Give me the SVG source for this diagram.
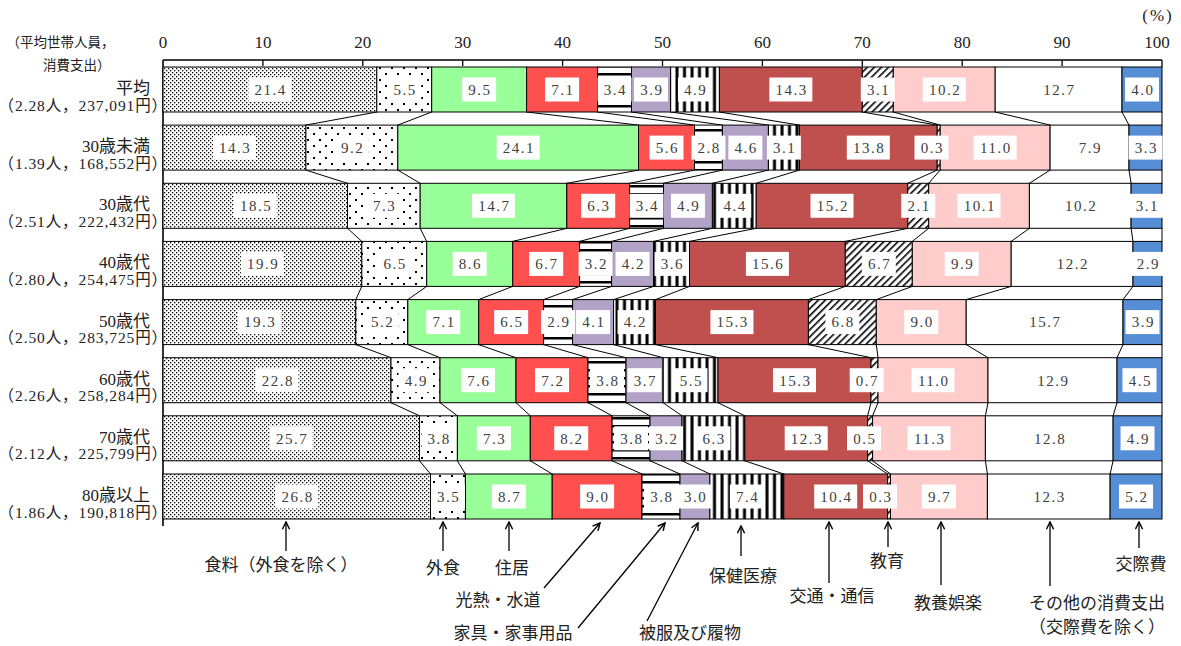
<svg xmlns="http://www.w3.org/2000/svg" xmlns:xlink="http://www.w3.org/1999/xlink" width="1181" height="646" viewBox="0 0 1181 646">
<style>
.seg rect{stroke:#000;stroke-width:1}
.c1{fill:url(#pFood)}.c2{fill:url(#pOut)}.c3{fill:#99FF99}.c4{fill:#FF5050}.c5{fill:url(#pHor)}.c6{fill:#B3A2C7}
.c7{fill:url(#pVer)}.c8{fill:#C0504D}.c9{fill:url(#pDiag)}.c10{fill:#FFCCCC}.c11{fill:#fff}.c12{fill:#558ED5}
.val{font-family:'Liberation Serif',serif;font-size:15px;letter-spacing:1.5px;fill:#404040;text-anchor:middle}
.num{font-family:'Liberation Serif',serif;font-size:17px;fill:#222;text-anchor:middle}
.jp{font-family:'Liberation Serif','Noto Sans CJK JP',sans-serif;fill:#222}
.r1{font-size:17px;text-anchor:end}
.r2{font-size:15.5px;letter-spacing:0.9px;text-anchor:end}
.an{font-family:'Noto Sans CJK JP',sans-serif;font-size:17px;fill:#222;text-anchor:middle}
.arr line{stroke:#000;stroke-width:1.3;marker-end:url(#ah)}
#connectors path{stroke:#000;stroke-width:1;fill:none}
</style>
<defs>
<pattern id="pFood" width="4" height="4" patternUnits="userSpaceOnUse"><rect width="4" height="4" fill="#fff"/><rect x="0" y="0" width="1.3" height="1.3" fill="#000"/><rect x="2" y="2" width="1.3" height="1.3" fill="#000"/></pattern>
<pattern id="pOut" width="12" height="12" patternUnits="userSpaceOnUse"><rect width="12" height="12" fill="#fff"/><rect x="1" y="1" width="2" height="2" fill="#000"/><rect x="7" y="7" width="2" height="2" fill="#000"/></pattern>
<pattern id="pHor" width="6" height="8" patternUnits="userSpaceOnUse"><rect width="6" height="8" fill="#fff"/><rect x="0" y="1" width="6" height="2.5" fill="#000"/></pattern>
<pattern id="pVer" width="7.5" height="6" patternUnits="userSpaceOnUse"><rect width="7.5" height="6" fill="#fff"/><rect x="0.5" y="0" width="3" height="6" fill="#000"/></pattern>
<pattern id="pDiag" width="5" height="5" patternUnits="userSpaceOnUse" patternTransform="rotate(45)"><rect width="5" height="5" fill="#fff"/><rect x="0" y="0" width="1.6" height="5" fill="#000"/></pattern>
<marker id="ah" viewBox="0 0 10 10" refX="9" refY="5" markerWidth="9" markerHeight="9" markerUnits="userSpaceOnUse" orient="auto"><path d="M1,1 L9,5 L1,9" fill="none" stroke="#000" stroke-width="1.6"/></marker>
<rect id="b3" x="-17" y="-12" width="34" height="24" fill="#fff"/>
<rect id="b4" x="-21.5" y="-12" width="43" height="24" fill="#fff"/>
</defs>
<rect width="1181" height="646" fill="#fff"/>

<g id="axis">
<path d="M163,60H1162 M163,60V66 M262.9,60V66 M362.8,60V66 M462.7,60V66 M562.6,60V66 M662.5,60V66 M762.4,60V66 M862.3,60V66 M962.2,60V66 M1062.1,60V66 M1162,60V67" stroke="#000" stroke-width="1.3" fill="none"/>
<text class="num" x="163" y="48">0</text><text class="num" x="262.9" y="48">10</text><text class="num" x="362.8" y="48">20</text><text class="num" x="462.7" y="48">30</text><text class="num" x="562.6" y="48">40</text><text class="num" x="662.5" y="48">50</text><text class="num" x="762.4" y="48">60</text><text class="num" x="862.3" y="48">70</text><text class="num" x="962.2" y="48">80</text><text class="num" x="1062.1" y="48">90</text><text class="num" x="1157" y="48">100</text>
<text class="num" x="1158" y="21" style="letter-spacing:2px">(%)</text>
<text class="jp" x="6.5" y="47" style="font-size:13.5px">（平均世帯人員，</text>
<text class="jp" x="43" y="70" style="font-size:13.5px">消費支出）</text>
</g>

<g id="connectors">
<path d="M376.8,112L305.9,125.1M431.7,112L397.8,125.1M526.6,112L638.5,125.1M597.6,112L694.5,125.1M631.5,112L722.4,125.1M670.5,112L768.4,125.1M719.4,112L799.4,125.1M862.3,112L937.2,125.1M893.3,112L940.2,125.1M995.2,112L1050.1,125.1M1122,112L1129,125.1M1162,112L1162,125.1
M305.9,170.1L347.5,183.3M397.8,170.1L420.2,183.3M638.5,170.1L566.8,183.3M694.5,170.1L629.6,183.3M722.4,170.1L663.5,183.3M768.4,170.1L712.4,183.3M799.4,170.1L756.2,183.3M937.2,170.1L907.8,183.3M940.2,170.1L928.7,183.3M1050.1,170.1L1029.4,183.3M1129,170.1L1131.1,183.3M1162,170.1L1162,183.3
M347.5,228.3L361.8,241.4M420.2,228.3L426.7,241.4M566.8,228.3L512.7,241.4M629.6,228.3L579.6,241.4M663.5,228.3L611.6,241.4M712.4,228.3L653.5,241.4M756.2,228.3L689.5,241.4M907.8,228.3L845.3,241.4M928.7,228.3L912.3,241.4M1029.4,228.3L1011.2,241.4M1131.1,228.3L1133,241.4M1162,228.3L1162,241.4
M361.8,286.4L355.8,299.6M426.7,286.4L407.8,299.6M512.7,286.4L478.7,299.6M579.6,286.4L543.6,299.6M611.6,286.4L572.6,299.6M653.5,286.4L613.6,299.6M689.5,286.4L655.5,299.6M845.3,286.4L808.4,299.6M912.3,286.4L876.3,299.6M1011.2,286.4L966.2,299.6M1133,286.4L1123,299.6M1162,286.4L1162,299.6
M355.8,344.6L391,357.7M407.8,344.6L440,357.7M478.7,344.6L516,357.7M543.6,344.6L588,357.7M572.6,344.6L626,357.7M613.6,344.6L663,357.7M655.5,344.6L718,357.7M808.4,344.6L871,357.7M876.3,344.6L878,357.7M966.2,344.6L988,357.7M1123,344.6L1117,357.7M1162,344.6L1162,357.7
M391,402.7L419.5,415.8M440,402.7L457.4,415.8M516,402.7L530.3,415.8M588,402.7L612.1,415.8M626,402.7L650,415.8M663,402.7L682,415.8M718,402.7L744.8,415.8M871,402.7L867.6,415.8M878,402.7L872.6,415.8M988,402.7L985.4,415.8M1117,402.7L1113.1,415.8M1162,402.7L1162,415.8
M419.5,460.8L430.5,474M457.4,460.8L465.4,474M530.3,460.8L552.2,474M612.1,460.8L642,474M650,460.8L680,474M682,460.8L709.9,474M744.8,460.8L783.8,474M867.6,460.8L887.6,474M872.6,460.8L890.5,474M985.4,460.8L987.4,474M1113.1,460.8L1110.1,474M1162,460.8L1162,474"/>
<path d="M163,60V526" style="stroke:#333;stroke-width:2"/>
</g>

<g id="row-avg">
<g class="seg"><rect class="c1" x="163" y="67" width="213.8" height="45"/><rect class="c2" x="376.8" y="67" width="54.9" height="45"/><rect class="c3" x="431.7" y="67" width="94.9" height="45"/><rect class="c4" x="526.6" y="67" width="71" height="45"/><rect class="c5" x="597.6" y="67" width="33.9" height="45"/><rect class="c6" x="631.5" y="67" width="39" height="45"/><rect class="c7" x="670.5" y="67" width="48.9" height="45"/><rect class="c8" x="719.4" y="67" width="142.9" height="45"/><rect class="c9" x="862.3" y="67" width="31" height="45"/><rect class="c10" x="893.3" y="67" width="101.9" height="45"/><rect class="c11" x="995.2" y="67" width="126.8" height="45"/><rect class="c12" x="1122" y="67" width="40" height="45"/></g>
<g class="val">
<g transform="translate(269.9 89.5)"><use href="#b4"/><text x="0.75" y="5.3">21.4</text></g>
<g transform="translate(404.25 89.5)"><use href="#b3"/><text x="0.75" y="5.3">5.5</text></g>
<g transform="translate(479.15 89.5)"><use href="#b3"/><text x="0.75" y="5.3">9.5</text></g>
<g transform="translate(562.1 89.5)"><use href="#b3"/><text x="0.75" y="5.3">7.1</text></g>
<g transform="translate(614.55 89.5)"><use href="#b3"/><text x="0.75" y="5.3">3.4</text></g>
<g transform="translate(651 89.5)"><use href="#b3"/><text x="0.75" y="5.3">3.9</text></g>
<g transform="translate(694.95 89.5)"><use href="#b3"/><text x="0.75" y="5.3">4.9</text></g>
<g transform="translate(790.85 89.5)"><use href="#b4"/><text x="0.75" y="5.3">14.3</text></g>
<g transform="translate(877.8 89.5)"><use href="#b3"/><text x="0.75" y="5.3">3.1</text></g>
<g transform="translate(944.25 89.5)"><use href="#b4"/><text x="0.75" y="5.3">10.2</text></g>
<g transform="translate(1058.6 89.5)"><use href="#b4"/><text x="0.75" y="5.3">12.7</text></g>
<g transform="translate(1142 89.5)"><use href="#b3"/><text x="0.75" y="5.3">4.0</text></g>
</g>
<text class="jp r1" x="150" y="94">平均</text>
<text class="jp r2" x="168" y="110.5">（2.28人，237,091円）</text>
</g>

<g id="row-u30">
<g class="seg"><rect class="c1" x="163" y="125.1" width="142.9" height="45"/><rect class="c2" x="305.9" y="125.1" width="91.9" height="45"/><rect class="c3" x="397.8" y="125.1" width="240.7" height="45"/><rect class="c4" x="638.5" y="125.1" width="56" height="45"/><rect class="c5" x="694.5" y="125.1" width="27.9" height="45"/><rect class="c6" x="722.4" y="125.1" width="46" height="45"/><rect class="c7" x="768.4" y="125.1" width="31" height="45"/><rect class="c8" x="799.4" y="125.1" width="137.8" height="45"/><rect class="c9" x="937.2" y="125.1" width="3" height="45"/><rect class="c10" x="940.2" y="125.1" width="109.9" height="45"/><rect class="c11" x="1050.1" y="125.1" width="78.9" height="45"/><rect class="c12" x="1129" y="125.1" width="33" height="45"/></g>
<g class="val">
<g transform="translate(234.45 147.6)"><use href="#b4"/><text x="0.75" y="5.3">14.3</text></g>
<g transform="translate(351.85 147.6)"><use href="#b3"/><text x="0.75" y="5.3">9.2</text></g>
<g transform="translate(518.15 147.6)"><use href="#b4"/><text x="0.75" y="5.3">24.1</text></g>
<g transform="translate(666.5 147.6)"><use href="#b3"/><text x="0.75" y="5.3">5.6</text></g>
<g transform="translate(708.45 147.6)"><use href="#b3"/><text x="0.75" y="5.3">2.8</text></g>
<g transform="translate(745.4 147.6)"><use href="#b3"/><text x="0.75" y="5.3">4.6</text></g>
<g transform="translate(783.9 147.6)"><use href="#b3"/><text x="0.75" y="5.3">3.1</text></g>
<g transform="translate(868.3 147.6)"><use href="#b4"/><text x="0.75" y="5.3">13.8</text></g>
<g transform="translate(931.5 147.6)"><use href="#b3"/><text x="0.75" y="5.3">0.3</text></g>
<g transform="translate(995.15 147.6)"><use href="#b4"/><text x="0.75" y="5.3">11.0</text></g>
<g transform="translate(1089.55 147.6)"><use href="#b3"/><text x="0.75" y="5.3">7.9</text></g>
<g transform="translate(1145.5 147.6)"><use href="#b3"/><text x="0.75" y="5.3">3.3</text></g>
</g>
<text class="jp r1" x="150" y="152.1">30歳未満</text>
<text class="jp r2" x="168" y="168.6">（1.39人，168,552円）</text>
</g>

<g id="row-30s">
<g class="seg"><rect class="c1" x="163" y="183.3" width="184.5" height="45"/><rect class="c2" x="347.5" y="183.3" width="72.7" height="45"/><rect class="c3" x="420.2" y="183.3" width="146.6" height="45"/><rect class="c4" x="566.8" y="183.3" width="62.8" height="45"/><rect class="c5" x="629.6" y="183.3" width="33.9" height="45"/><rect class="c6" x="663.5" y="183.3" width="48.9" height="45"/><rect class="c7" x="712.4" y="183.3" width="43.8" height="45"/><rect class="c8" x="756.2" y="183.3" width="151.6" height="45"/><rect class="c9" x="907.8" y="183.3" width="20.9" height="45"/><rect class="c10" x="928.7" y="183.3" width="100.7" height="45"/><rect class="c11" x="1029.4" y="183.3" width="101.7" height="45"/><rect class="c12" x="1131.1" y="183.3" width="30.9" height="45"/></g>
<g class="val">
<g transform="translate(255.25 205.8)"><use href="#b4"/><text x="0.75" y="5.3">18.5</text></g>
<g transform="translate(383.85 205.8)"><use href="#b3"/><text x="0.75" y="5.3">7.3</text></g>
<g transform="translate(493.5 205.8)"><use href="#b4"/><text x="0.75" y="5.3">14.7</text></g>
<g transform="translate(598.2 205.8)"><use href="#b3"/><text x="0.75" y="5.3">6.3</text></g>
<g transform="translate(646.55 205.8)"><use href="#b3"/><text x="0.75" y="5.3">3.4</text></g>
<g transform="translate(687.95 205.8)"><use href="#b3"/><text x="0.75" y="5.3">4.9</text></g>
<g transform="translate(734.3 205.8)"><use href="#b3"/><text x="0.75" y="5.3">4.4</text></g>
<g transform="translate(832 205.8)"><use href="#b4"/><text x="0.75" y="5.3">15.2</text></g>
<g transform="translate(918.25 205.8)"><use href="#b3"/><text x="0.75" y="5.3">2.1</text></g>
<g transform="translate(979.05 205.8)"><use href="#b4"/><text x="0.75" y="5.3">10.1</text></g>
<g transform="translate(1080.25 205.8)"><use href="#b4"/><text x="0.75" y="5.3">10.2</text></g>
<g transform="translate(1146.55 205.8)"><use href="#b3"/><text x="0.75" y="5.3">3.1</text></g>
</g>
<text class="jp r1" x="150" y="210.3">30歳代</text>
<text class="jp r2" x="168" y="226.8">（2.51人，222,432円）</text>
</g>

<g id="row-40s">
<g class="seg"><rect class="c1" x="163" y="241.4" width="198.8" height="45"/><rect class="c2" x="361.8" y="241.4" width="64.9" height="45"/><rect class="c3" x="426.7" y="241.4" width="86" height="45"/><rect class="c4" x="512.7" y="241.4" width="66.9" height="45"/><rect class="c5" x="579.6" y="241.4" width="32" height="45"/><rect class="c6" x="611.6" y="241.4" width="41.9" height="45"/><rect class="c7" x="653.5" y="241.4" width="36" height="45"/><rect class="c8" x="689.5" y="241.4" width="155.8" height="45"/><rect class="c9" x="845.3" y="241.4" width="67" height="45"/><rect class="c10" x="912.3" y="241.4" width="98.9" height="45"/><rect class="c11" x="1011.2" y="241.4" width="121.8" height="45"/><rect class="c12" x="1133" y="241.4" width="29" height="45"/></g>
<g class="val">
<g transform="translate(262.4 263.9)"><use href="#b4"/><text x="0.75" y="5.3">19.9</text></g>
<g transform="translate(394.25 263.9)"><use href="#b3"/><text x="0.75" y="5.3">6.5</text></g>
<g transform="translate(469.7 263.9)"><use href="#b3"/><text x="0.75" y="5.3">8.6</text></g>
<g transform="translate(546.15 263.9)"><use href="#b3"/><text x="0.75" y="5.3">6.7</text></g>
<g transform="translate(595.6 263.9)"><use href="#b3"/><text x="0.75" y="5.3">3.2</text></g>
<g transform="translate(632.55 263.9)"><use href="#b3"/><text x="0.75" y="5.3">4.2</text></g>
<g transform="translate(671.5 263.9)"><use href="#b3"/><text x="0.75" y="5.3">3.6</text></g>
<g transform="translate(767.4 263.9)"><use href="#b4"/><text x="0.75" y="5.3">15.6</text></g>
<g transform="translate(878.8 263.9)"><use href="#b3"/><text x="0.75" y="5.3">6.7</text></g>
<g transform="translate(961.75 263.9)"><use href="#b3"/><text x="0.75" y="5.3">9.9</text></g>
<g transform="translate(1072.1 263.9)"><use href="#b4"/><text x="0.75" y="5.3">12.2</text></g>
<g transform="translate(1147.5 263.9)"><use href="#b3"/><text x="0.75" y="5.3">2.9</text></g>
</g>
<text class="jp r1" x="150" y="268.4">40歳代</text>
<text class="jp r2" x="168" y="284.9">（2.80人，254,475円）</text>
</g>

<g id="row-50s">
<g class="seg"><rect class="c1" x="163" y="299.6" width="192.8" height="45"/><rect class="c2" x="355.8" y="299.6" width="52" height="45"/><rect class="c3" x="407.8" y="299.6" width="70.9" height="45"/><rect class="c4" x="478.7" y="299.6" width="64.9" height="45"/><rect class="c5" x="543.6" y="299.6" width="29" height="45"/><rect class="c6" x="572.6" y="299.6" width="41" height="45"/><rect class="c7" x="613.6" y="299.6" width="41.9" height="45"/><rect class="c8" x="655.5" y="299.6" width="152.9" height="45"/><rect class="c9" x="808.4" y="299.6" width="67.9" height="45"/><rect class="c10" x="876.3" y="299.6" width="89.9" height="45"/><rect class="c11" x="966.2" y="299.6" width="156.8" height="45"/><rect class="c12" x="1123" y="299.6" width="39" height="45"/></g>
<g class="val">
<g transform="translate(259.4 322.1)"><use href="#b4"/><text x="0.75" y="5.3">19.3</text></g>
<g transform="translate(381.8 322.1)"><use href="#b3"/><text x="0.75" y="5.3">5.2</text></g>
<g transform="translate(443.25 322.1)"><use href="#b3"/><text x="0.75" y="5.3">7.1</text></g>
<g transform="translate(511.15 322.1)"><use href="#b3"/><text x="0.75" y="5.3">6.5</text></g>
<g transform="translate(558.1 322.1)"><use href="#b3"/><text x="0.75" y="5.3">2.9</text></g>
<g transform="translate(593.1 322.1)"><use href="#b3"/><text x="0.75" y="5.3">4.1</text></g>
<g transform="translate(634.55 322.1)"><use href="#b3"/><text x="0.75" y="5.3">4.2</text></g>
<g transform="translate(731.95 322.1)"><use href="#b4"/><text x="0.75" y="5.3">15.3</text></g>
<g transform="translate(842.35 322.1)"><use href="#b3"/><text x="0.75" y="5.3">6.8</text></g>
<g transform="translate(921.25 322.1)"><use href="#b3"/><text x="0.75" y="5.3">9.0</text></g>
<g transform="translate(1044.6 322.1)"><use href="#b4"/><text x="0.75" y="5.3">15.7</text></g>
<g transform="translate(1142.5 322.1)"><use href="#b3"/><text x="0.75" y="5.3">3.9</text></g>
</g>
<text class="jp r1" x="150" y="326.6">50歳代</text>
<text class="jp r2" x="168" y="343.1">（2.50人，283,725円）</text>
</g>

<g id="row-60s">
<g class="seg"><rect class="c1" x="163" y="357.7" width="228" height="45"/><rect class="c2" x="391" y="357.7" width="49" height="45"/><rect class="c3" x="440" y="357.7" width="76" height="45"/><rect class="c4" x="516" y="357.7" width="72" height="45"/><rect class="c5" x="588" y="357.7" width="38" height="45"/><rect class="c6" x="626" y="357.7" width="37" height="45"/><rect class="c7" x="663" y="357.7" width="55" height="45"/><rect class="c8" x="718" y="357.7" width="153" height="45"/><rect class="c9" x="871" y="357.7" width="7" height="45"/><rect class="c10" x="878" y="357.7" width="110" height="45"/><rect class="c11" x="988" y="357.7" width="129" height="45"/><rect class="c12" x="1117" y="357.7" width="45" height="45"/></g>
<g class="val">
<g transform="translate(277 380.2)"><use href="#b4"/><text x="0.75" y="5.3">22.8</text></g>
<g transform="translate(415.5 380.2)"><use href="#b3"/><text x="0.75" y="5.3">4.9</text></g>
<g transform="translate(478 380.2)"><use href="#b3"/><text x="0.75" y="5.3">7.6</text></g>
<g transform="translate(552 380.2)"><use href="#b3"/><text x="0.75" y="5.3">7.2</text></g>
<g transform="translate(607 380.2)"><use href="#b3"/><text x="0.75" y="5.3">3.8</text></g>
<g transform="translate(644.5 380.2)"><use href="#b3"/><text x="0.75" y="5.3">3.7</text></g>
<g transform="translate(690.5 380.2)"><use href="#b3"/><text x="0.75" y="5.3">5.5</text></g>
<g transform="translate(794.5 380.2)"><use href="#b4"/><text x="0.75" y="5.3">15.3</text></g>
<g transform="translate(866.7 380.2)"><use href="#b3"/><text x="0.75" y="5.3">0.7</text></g>
<g transform="translate(933 380.2)"><use href="#b4"/><text x="0.75" y="5.3">11.0</text></g>
<g transform="translate(1052.5 380.2)"><use href="#b4"/><text x="0.75" y="5.3">12.9</text></g>
<g transform="translate(1139.5 380.2)"><use href="#b3"/><text x="0.75" y="5.3">4.5</text></g>
</g>
<text class="jp r1" x="150" y="384.7">60歳代</text>
<text class="jp r2" x="168" y="401.2">（2.26人，258,284円）</text>
</g>

<g id="row-70s">
<g class="seg"><rect class="c1" x="163" y="415.8" width="256.5" height="45"/><rect class="c2" x="419.5" y="415.8" width="37.9" height="45"/><rect class="c3" x="457.4" y="415.8" width="72.9" height="45"/><rect class="c4" x="530.3" y="415.8" width="81.8" height="45"/><rect class="c5" x="612.1" y="415.8" width="37.9" height="45"/><rect class="c6" x="650" y="415.8" width="32" height="45"/><rect class="c7" x="682" y="415.8" width="62.8" height="45"/><rect class="c8" x="744.8" y="415.8" width="122.8" height="45"/><rect class="c9" x="867.6" y="415.8" width="5" height="45"/><rect class="c10" x="872.6" y="415.8" width="112.8" height="45"/><rect class="c11" x="985.4" y="415.8" width="127.7" height="45"/><rect class="c12" x="1113.1" y="415.8" width="48.9" height="45"/></g>
<g class="val">
<g transform="translate(291.25 438.3)"><use href="#b4"/><text x="0.75" y="5.3">25.7</text></g>
<g transform="translate(438.45 438.3)"><use href="#b3"/><text x="0.75" y="5.3">3.8</text></g>
<g transform="translate(493.85 438.3)"><use href="#b3"/><text x="0.75" y="5.3">7.3</text></g>
<g transform="translate(571.2 438.3)"><use href="#b3"/><text x="0.75" y="5.3">8.2</text></g>
<g transform="translate(631.05 438.3)"><use href="#b3"/><text x="0.75" y="5.3">3.8</text></g>
<g transform="translate(666 438.3)"><use href="#b3"/><text x="0.75" y="5.3">3.2</text></g>
<g transform="translate(713.4 438.3)"><use href="#b3"/><text x="0.75" y="5.3">6.3</text></g>
<g transform="translate(806.2 438.3)"><use href="#b4"/><text x="0.75" y="5.3">12.3</text></g>
<g transform="translate(864 438.3)"><use href="#b3"/><text x="0.75" y="5.3">0.5</text></g>
<g transform="translate(929 438.3)"><use href="#b4"/><text x="0.75" y="5.3">11.3</text></g>
<g transform="translate(1049.25 438.3)"><use href="#b4"/><text x="0.75" y="5.3">12.8</text></g>
<g transform="translate(1137.55 438.3)"><use href="#b3"/><text x="0.75" y="5.3">4.9</text></g>
</g>
<text class="jp r1" x="150" y="442.8">70歳代</text>
<text class="jp r2" x="168" y="459.3">（2.12人，225,799円）</text>
</g>

<g id="row-80s">
<g class="seg"><rect class="c1" x="163" y="474" width="267.5" height="45"/><rect class="c2" x="430.5" y="474" width="34.9" height="45"/><rect class="c3" x="465.4" y="474" width="86.8" height="45"/><rect class="c4" x="552.2" y="474" width="89.8" height="45"/><rect class="c5" x="642" y="474" width="38" height="45"/><rect class="c6" x="680" y="474" width="29.9" height="45"/><rect class="c7" x="709.9" y="474" width="73.9" height="45"/><rect class="c8" x="783.8" y="474" width="103.8" height="45"/><rect class="c9" x="887.6" y="474" width="2.9" height="45"/><rect class="c10" x="890.5" y="474" width="96.9" height="45"/><rect class="c11" x="987.4" y="474" width="122.7" height="45"/><rect class="c12" x="1110.1" y="474" width="51.9" height="45"/></g>
<g class="val">
<g transform="translate(296.75 496.5)"><use href="#b4"/><text x="0.75" y="5.3">26.8</text></g>
<g transform="translate(447.95 496.5)"><use href="#b3"/><text x="0.75" y="5.3">3.5</text></g>
<g transform="translate(508.8 496.5)"><use href="#b3"/><text x="0.75" y="5.3">8.7</text></g>
<g transform="translate(597.1 496.5)"><use href="#b3"/><text x="0.75" y="5.3">9.0</text></g>
<g transform="translate(661 496.5)"><use href="#b3"/><text x="0.75" y="5.3">3.8</text></g>
<g transform="translate(694.95 496.5)"><use href="#b3"/><text x="0.75" y="5.3">3.0</text></g>
<g transform="translate(746.85 496.5)"><use href="#b3"/><text x="0.75" y="5.3">7.4</text></g>
<g transform="translate(835.7 496.5)"><use href="#b4"/><text x="0.75" y="5.3">10.4</text></g>
<g transform="translate(880 496.5)"><use href="#b3"/><text x="0.75" y="5.3">0.3</text></g>
<g transform="translate(938.95 496.5)"><use href="#b3"/><text x="0.75" y="5.3">9.7</text></g>
<g transform="translate(1048.75 496.5)"><use href="#b4"/><text x="0.75" y="5.3">12.3</text></g>
<g transform="translate(1136.05 496.5)"><use href="#b3"/><text x="0.75" y="5.3">5.2</text></g>
</g>
<text class="jp r1" x="150" y="501">80歳以上</text>
<text class="jp r2" x="168" y="517.5">（1.86人，190,818円）</text>
</g>

<g id="annotations" class="arr">
<g id="ann-food"><line x1="286" y1="551" x2="286" y2="522"/><text class="an" x="281" y="571">食料（外食を除く）</text></g>
<g id="ann-eatout"><line x1="443" y1="551" x2="443" y2="522"/><text class="an" x="443" y="574">外食</text></g>
<g id="ann-housing"><line x1="509" y1="551" x2="509" y2="522"/><text class="an" x="512" y="574">住居</text></g>
<g id="ann-utility"><line x1="544" y1="588" x2="600" y2="523"/><text class="an" x="498" y="606">光熱・水道</text></g>
<g id="ann-furniture"><line x1="578" y1="628" x2="665" y2="523"/><text class="an" x="513" y="639">家具・家事用品</text></g>
<g id="ann-clothing"><line x1="647" y1="621" x2="698" y2="523"/><text class="an" x="690" y="639">被服及び履物</text></g>
<g id="ann-medical"><line x1="741" y1="556" x2="741" y2="526"/><text class="an" x="743" y="582">保健医療</text></g>
<g id="ann-transport"><line x1="829" y1="583" x2="829" y2="522"/><text class="an" x="832" y="602">交通・通信</text></g>
<g id="ann-education"><line x1="888" y1="547" x2="888" y2="522"/><text class="an" x="887" y="567">教育</text></g>
<g id="ann-culture"><line x1="941" y1="585" x2="941" y2="522"/><text class="an" x="948" y="609">教養娯楽</text></g>
<g id="ann-other"><line x1="1050" y1="586" x2="1050" y2="522"/><text class="an" x="1097" y="609">その他の消費支出</text><text class="an" x="1097" y="633">（交際費を除く）</text></g>
<g id="ann-social"><line x1="1139" y1="548" x2="1139" y2="522"/><text class="an" x="1141" y="570">交際費</text></g>
</g>
</svg>
